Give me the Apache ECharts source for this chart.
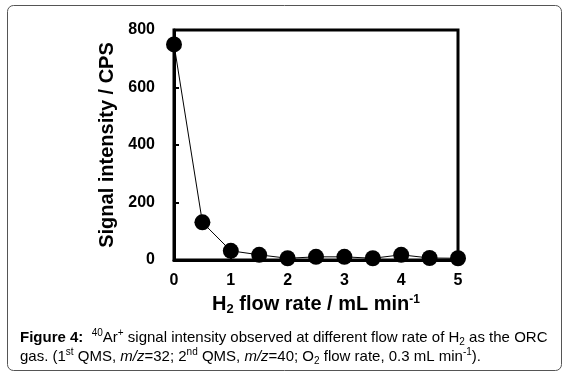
<!DOCTYPE html>
<html>
<head>
<meta charset="utf-8">
<script src="https://cdn.jsdelivr.net/npm/echarts@6/dist/echarts.min.js"></script>
<style>
  html, body { margin: 0; padding: 0; background: #fff; }
  #chart { width: 569px; height: 376px; }
</style>
</head>
<body>
<div id="chart"></div>
<script>
// H2 flow rate (mL/min) and 40Ar+ signal (CPS)
const flowRate = [0, 0.5, 1, 1.5, 2, 2.5, 3, 3.5, 4, 4.5, 5];
const signal = [750, 131, 32, 18, 6, 11, 11, 6, 18, 7, 6];
const xTicks = [0, 1, 2, 3, 4, 5];
const yTicks = [0, 200, 400, 600, 800];

const chart = echarts.init(document.getElementById('chart'));
const font = 'Liberation Sans, Arial, sans-serif';

const option = {
  animation: false,
  backgroundColor: '#fff',
  grid: {
    left: 174,
    right: 111,
    top: 30,
    bottom: 116,
    show: true,
    borderColor: '#000',
    borderWidth: 3,
  },
  xAxis: {
    type: 'value',
    min: xTicks[0],
    max: xTicks[xTicks.length - 1],
    interval: 1,
    name: 'H{sub|2} flow rate / mL min{sup|-1}',
    nameLocation: 'middle',
    nameGap: 32,
    nameTextStyle: {
      fontFamily: font,
      fontWeight: 'bold',
      fontSize: 20,
      color: '#000',
      rich: {
        sub: { fontFamily: font, fontWeight: 'bold', fontSize: 13, color: '#000', verticalAlign: 'bottom', padding: [9, 0, 0, 0] },
        sup: { fontFamily: font, fontWeight: 'bold', fontSize: 12, color: '#000', verticalAlign: 'top', padding: [0, 0, 9, 0] },
      },
    },
    axisLine: { lineStyle: { color: '#000', width: 3 } },
    axisTick: { inside: true, length: 5, lineStyle: { color: '#000', width: 2 } },
    axisLabel: { fontFamily: font, fontWeight: 'bold', fontSize: 16, color: '#000', margin: 13 },
    splitLine: { show: false },
  },
  yAxis: {
    type: 'value',
    min: yTicks[0],
    max: yTicks[yTicks.length - 1],
    interval: 200,
    name: 'Signal intensity / CPS',
    nameLocation: 'middle',
    nameGap: 57,
    nameTextStyle: { fontFamily: font, fontWeight: 'bold', fontSize: 20, color: '#000' },
    axisLine: { show: true, lineStyle: { color: '#000', width: 3 } },
    axisTick: { show: true, inside: true, length: 5, lineStyle: { color: '#000', width: 2 } },
    axisLabel: { fontFamily: font, fontWeight: 'bold', fontSize: 16, color: '#000', margin: 19 },
    splitLine: { show: false },
  },
  series: [
    {
      type: 'line',
      data: flowRate.map((x, i) => [x, signal[i]]),
      symbol: 'circle',
      symbolSize: 16,
      itemStyle: { color: '#000' },
      lineStyle: { color: '#000', width: 1 },
      clip: false,
      z: 5,
    },
  ],
  graphic: [
    {
      type: 'rect',
      shape: { x: 7.5, y: 5.5, width: 554, height: 365, r: 6 },
      style: { fill: 'none', stroke: '#555', lineWidth: 1 },
      z: -10,
    },
    {
      type: 'text',
      left: 20,
      top: 328,
      style: {
        text: '{b|Figure 4:}  {sp|40}Ar{sp|+} signal intensity observed at different flow rate of H{sb|2} as the ORC\ngas. (1{sp|st} QMS, {i|m/z}=32; 2{sp|nd} QMS, {i|m/z}=40; O{sb|2} flow rate, 0.3 mL min{sp|-1}).',
        font: '15px ' + font,
        fill: '#000',
        lineHeight: 19,
        rich: {
          b: { fontFamily: font, fontWeight: 'bold', fontSize: 15, fill: '#000' },
          i: { fontFamily: font, fontStyle: 'italic', fontSize: 15, fill: '#000' },
          sp: { fontFamily: font, fontSize: 10, fill: '#000', verticalAlign: 'top', padding: [0, 0, 6, 0] },
          sb: { fontFamily: font, fontSize: 10, fill: '#000', verticalAlign: 'bottom', padding: [6, 0, 0, 0] },
        },
      },
    },
  ],
};

chart.setOption(option);
</script>
</body>
</html>
